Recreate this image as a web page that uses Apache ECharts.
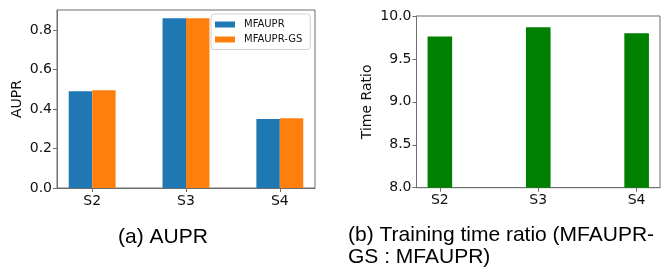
<!DOCTYPE html>
<html>
<head>
<meta charset="utf-8">
<script src="https://cdn.jsdelivr.net/npm/echarts@6/dist/echarts.min.js"></script>
<style>
  html, body { margin: 0; padding: 0; background: #fff; }
  #chart { width: 670px; height: 268px; }
</style>
</head>
<body>
<div id="chart"></div>
<script>
const categories = ["S2", "S3", "S4"];
const mfaupr = [0.491, 0.861, 0.350];
const mfauprGs = [0.496, 0.861, 0.354];
const timeRatio = [9.76, 9.87, 9.80];
const auprTicks = [0, 0.2, 0.4, 0.6, 0.8];
const catTicks = [0, 1, 2];

const AXIS_COLOR = "#6e6e6e";
const LABEL_FONT = "DejaVu Sans";
const TEXT_COLOR = "#111";

const toPoints = values => values.map((v, i) => [i, v]);

// x axes are value axes so the category spacing matches the matplotlib margins
const catAxis = (gridIndex, min, max) => ({
  type: "value",
  gridIndex: gridIndex,
  min: min,
  max: max,
  splitLine: { show: false },
  axisLine: { onZero: false, lineStyle: { color: AXIS_COLOR, width: 1 } },
  axisTick: { customValues: catTicks, length: 4, lineStyle: { color: AXIS_COLOR } },
  axisLabel: {
    customValues: catTicks,
    formatter: v => categories[Math.round(v)],
    fontFamily: LABEL_FONT,
    fontSize: 14,
    color: TEXT_COLOR,
    margin: 6
  }
});

const valueAxis = (gridIndex, name, nameGap, extra) =>
  Object.assign(
    {
      type: "value",
      gridIndex: gridIndex,
      name: name,
      nameLocation: "middle",
      nameGap: nameGap,
      nameTextStyle: { fontFamily: LABEL_FONT, fontSize: 14, color: TEXT_COLOR },
      splitLine: { show: false },
      axisLine: { show: true, onZero: false, lineStyle: { color: AXIS_COLOR } },
      axisTick: { show: true, length: 4, lineStyle: { color: AXIS_COLOR } },
      axisLabel: {
        formatter: v => v.toFixed(1),
        fontFamily: LABEL_FONT,
        fontSize: 14,
        color: TEXT_COLOR,
        margin: 5
      }
    },
    extra
  );

const yAuprAxis = valueAxis(0, "AUPR", 33, { min: 0, max: 0.903 });
yAuprAxis.axisTick.customValues = auprTicks;
yAuprAxis.axisLabel.customValues = auprTicks;

const yTimeAxis = valueAxis(1, "Time Ratio", 42, { min: 8, max: 10, interval: 0.5 });

const caption = (text, x, y, align) => ({
  type: "text",
  x: x,
  y: y,
  style: {
    text: text,
    font: "21px 'Liberation Sans'",
    fill: "#000",
    align: align
  }
});

const option = {
  animation: false,
  backgroundColor: "#fff",
  grid: [
    { left: 57, top: 10, width: 258, height: 178, show: true, borderColor: AXIS_COLOR, borderWidth: 1 },
    { left: 416.5, top: 16, width: 243.5, height: 171.7, show: true, borderColor: AXIS_COLOR, borderWidth: 1 }
  ],
  legend: {
    data: ["MFAUPR", "MFAUPR-GS"],
    orient: "vertical",
    left: 211,
    top: 14,
    icon: "rect",
    itemWidth: 20,
    itemHeight: 6,
    itemGap: 3,
    padding: [4.5, 8, 4, 4],
    borderColor: "#d0d0d0",
    borderWidth: 1,
    borderRadius: 3,
    backgroundColor: "rgba(255,255,255,0.8)",
    textStyle: {
      fontFamily: LABEL_FONT,
      fontSize: 10,
      lineHeight: 12,
      color: TEXT_COLOR,
      padding: [0, 0, 0, 4]
    }
  },
  xAxis: [catAxis(0, -0.375, 2.375), catAxis(1, -0.2375, 2.2375)],
  yAxis: [yAuprAxis, yTimeAxis],
  series: [
    {
      name: "MFAUPR",
      type: "bar",
      xAxisIndex: 0,
      yAxisIndex: 0,
      barWidth: "25%",
      barGap: "0%",
      itemStyle: { color: "#1f77b4" },
      data: toPoints(mfaupr)
    },
    {
      name: "MFAUPR-GS",
      type: "bar",
      xAxisIndex: 0,
      yAxisIndex: 0,
      barWidth: "25%",
      barGap: "0%",
      itemStyle: { color: "#ff7f0e" },
      data: toPoints(mfauprGs)
    },
    {
      name: "Time Ratio",
      type: "bar",
      xAxisIndex: 1,
      yAxisIndex: 1,
      barWidth: "25%",
      itemStyle: { color: "#008000" },
      data: toPoints(timeRatio)
    }
  ],
  graphic: [
    caption("(a) AUPR", 163, 226.5, "center"),
    caption("(b) Training time ratio (MFAUPR-", 348, 224.5, "left"),
    caption("GS : MFAUPR)", 348, 246.5, "left")
  ]
};

const myChart = echarts.init(document.getElementById("chart"), null, { renderer: "canvas" });
myChart.setOption(option);
</script>
</body>
</html>
